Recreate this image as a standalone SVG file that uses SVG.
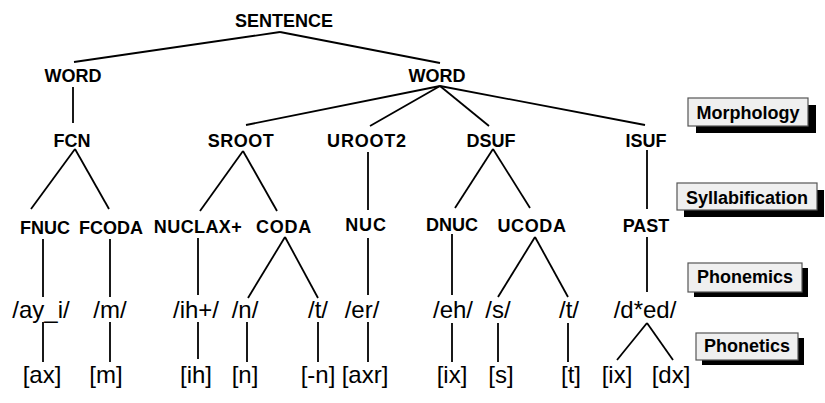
<svg xmlns="http://www.w3.org/2000/svg" width="825" height="403" viewBox="0 0 825 403">
  <style>
    .cat { font-family: "Liberation Sans", Arial, sans-serif; font-weight: bold; font-size: 18px; text-anchor: middle; fill: #000; }
    .seg { font-family: "Liberation Sans", Arial, sans-serif; font-size: 24px; text-anchor: middle; fill: #000; }
    .lvl { font-family: "Liberation Sans", Arial, sans-serif; font-weight: bold; font-size: 18px; text-anchor: middle; fill: #000; }
    .edges line { stroke: #000; stroke-width: 1.8; stroke-linecap: butt; }
    .box { fill: #efefef; stroke: #555; stroke-width: 1.2; }
    .shadow { fill: #000; }
  </style>
  <rect width="825" height="403" fill="#fff"/>

  <!-- tree branches -->
  <g id="edges" class="edges">
    <line x1="280" y1="32" x2="74" y2="62"/>
    <line x1="280" y1="32" x2="440" y2="63"/>
    <line x1="73" y1="87" x2="73" y2="123"/>
    <line x1="75" y1="149" x2="31" y2="209"/>
    <line x1="75" y1="149" x2="109" y2="209"/>
    <line x1="440" y1="86" x2="246" y2="125"/>
    <line x1="440" y1="86" x2="370" y2="126"/>
    <line x1="440" y1="86" x2="489" y2="126"/>
    <line x1="440" y1="86" x2="645" y2="125"/>
    <line x1="243" y1="151" x2="200" y2="211"/>
    <line x1="243" y1="151" x2="277" y2="211"/>
    <line x1="368" y1="152" x2="368" y2="210"/>
    <line x1="493" y1="149" x2="455" y2="208"/>
    <line x1="493" y1="149" x2="530" y2="208"/>
    <line x1="647" y1="150" x2="647" y2="209"/>
    <line x1="43" y1="239" x2="43" y2="297"/>
    <line x1="110" y1="239" x2="110" y2="297"/>
    <line x1="198" y1="238" x2="198" y2="295"/>
    <line x1="285" y1="237" x2="248" y2="298"/>
    <line x1="285" y1="237" x2="318" y2="298"/>
    <line x1="368" y1="238" x2="368" y2="295"/>
    <line x1="452" y1="234" x2="452" y2="295"/>
    <line x1="535" y1="237" x2="498" y2="297"/>
    <line x1="535" y1="237" x2="568" y2="297"/>
    <line x1="647" y1="237" x2="647" y2="292"/>
    <line x1="43" y1="322" x2="43" y2="362"/>
    <line x1="110" y1="322" x2="110" y2="362"/>
    <line x1="198" y1="322" x2="198" y2="359"/>
    <line x1="247" y1="322" x2="247" y2="362"/>
    <line x1="318" y1="322" x2="318" y2="362"/>
    <line x1="368" y1="322" x2="368" y2="362"/>
    <line x1="452" y1="323" x2="452" y2="362"/>
    <line x1="498" y1="323" x2="498" y2="362"/>
    <line x1="568" y1="323" x2="568" y2="362"/>
    <line x1="647" y1="323" x2="617" y2="360"/>
    <line x1="647" y1="323" x2="673" y2="360"/>
  </g>

  <!-- category nodes -->
  <g id="n-sentence"><text class="cat" x="284" y="27">SENTENCE</text></g>
  <g id="n-word1"><text class="cat" x="73" y="82">WORD</text></g>
  <g id="n-word2"><text class="cat" x="437" y="82">WORD</text></g>
  <g id="n-fcn"><text class="cat" x="72" y="147">FCN</text></g>
  <g id="n-sroot"><text class="cat" x="241" y="147" letter-spacing="0.5">SROOT</text></g>
  <g id="n-uroot2"><text class="cat" x="367" y="147" letter-spacing="0.8">UROOT2</text></g>
  <g id="n-dsuf"><text class="cat" x="491" y="147">DSUF</text></g>
  <g id="n-isuf"><text class="cat" x="646" y="147">ISUF</text></g>
  <g id="n-fnuc"><text class="cat" x="45" y="234">FNUC</text></g>
  <g id="n-fcoda"><text class="cat" x="111" y="234">FCODA</text></g>
  <g id="n-nuclax"><text class="cat" x="198" y="233" letter-spacing="0.4">NUCLAX+</text></g>
  <g id="n-coda"><text class="cat" x="284" y="233" letter-spacing="0.8">CODA</text></g>
  <g id="n-nuc"><text class="cat" x="366" y="231" letter-spacing="0.8">NUC</text></g>
  <g id="n-dnuc"><text class="cat" x="452" y="231">DNUC</text></g>
  <g id="n-ucoda"><text class="cat" x="532" y="232" letter-spacing="0.6">UCODA</text></g>
  <g id="n-past"><text class="cat" x="646" y="232">PAST</text></g>

  <!-- phonemic forms -->
  <g id="p-ay"><text class="seg" x="41" y="318">/ay_i/</text></g>
  <g id="p-m"><text class="seg" x="110" y="318">/m/</text></g>
  <g id="p-ih"><text class="seg" x="196" y="318">/ih+/</text></g>
  <g id="p-n"><text class="seg" x="245" y="318">/n/</text></g>
  <g id="p-t1"><text class="seg" x="318" y="318">/t/</text></g>
  <g id="p-er"><text class="seg" x="362" y="318">/er/</text></g>
  <g id="p-eh"><text class="seg" x="453" y="318">/eh/</text></g>
  <g id="p-s"><text class="seg" x="498" y="318">/s/</text></g>
  <g id="p-t2"><text class="seg" x="569" y="318">/t/</text></g>
  <g id="p-ded"><text class="seg" x="645" y="318">/d*ed/</text></g>

  <!-- phonetic forms -->
  <g id="f-ax"><text class="seg" x="42" y="383">[ax]</text></g>
  <g id="f-m"><text class="seg" x="106" y="383">[m]</text></g>
  <g id="f-ih"><text class="seg" x="196" y="383">[ih]</text></g>
  <g id="f-n"><text class="seg" x="245" y="383">[n]</text></g>
  <g id="f-nn"><text class="seg" x="318" y="383">[-n]</text></g>
  <g id="f-axr"><text class="seg" x="365" y="383">[axr]</text></g>
  <g id="f-ix1"><text class="seg" x="452" y="383">[ix]</text></g>
  <g id="f-s"><text class="seg" x="501" y="383">[s]</text></g>
  <g id="f-t"><text class="seg" x="571" y="383">[t]</text></g>
  <g id="f-ix2"><text class="seg" x="617" y="383">[ix]</text></g>
  <g id="f-dx"><text class="seg" x="671" y="383">[dx]</text></g>

  <!-- level labels -->
  <g id="lvl-morphology">
    <rect class="shadow" x="696" y="105" width="120" height="28"/>
    <rect class="box" x="688" y="98" width="120" height="28"/>
    <text class="lvl" x="748" y="119">Morphology</text>
  </g>
  <g id="lvl-syllabification">
    <rect class="shadow" x="684" y="190" width="140" height="27"/>
    <rect class="box" x="677" y="183" width="140" height="27"/>
    <text class="lvl" x="747" y="204">Syllabification</text>
  </g>
  <g id="lvl-phonemics">
    <rect class="shadow" x="694" y="268" width="114" height="29"/>
    <rect class="box" x="688" y="263" width="114" height="29"/>
    <text class="lvl" x="745" y="283">Phonemics</text>
  </g>
  <g id="lvl-phonetics">
    <rect class="shadow" x="702" y="338" width="102" height="27"/>
    <rect class="box" x="696" y="333" width="102" height="27"/>
    <text class="lvl" x="747" y="352">Phonetics</text>
  </g>
</svg>
